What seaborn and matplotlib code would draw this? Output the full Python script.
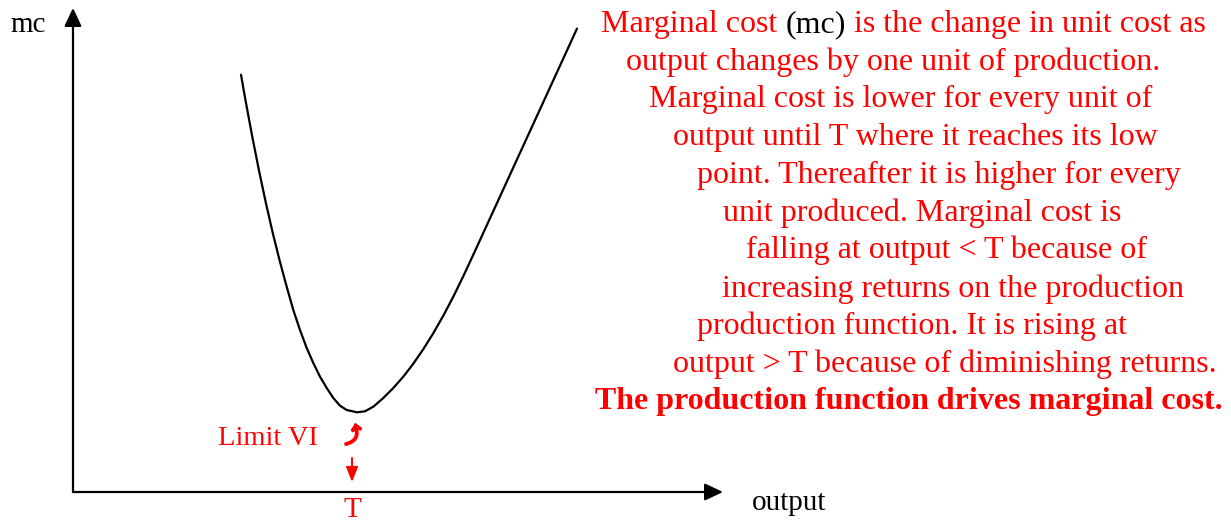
import matplotlib
matplotlib.use("Agg")
import matplotlib.pyplot as plt
import matplotlib.patheffects as pe
import seaborn as sns
import pandas as pd

# ---- data (output, marginal cost) ----
output = [168, 172, 179, 186, 193, 200, 207, 213.7, 220.3, 227, 233.7, 240.3,
          247, 253.7, 260.3, 267, 273.7, 284, 292, 300.3, 310.3, 320.3, 330.3,
          340.3, 350.3, 360.3, 370.3, 380.3, 390.3, 400.3, 427, 457, 487, 504]
mc = [417.3, 394.5, 356.7, 321.4, 288.5, 258, 230, 205.3, 182, 162, 144, 129,
      115.3, 104, 94, 86.3, 82, 79.7, 80.7, 85.3, 94, 104, 115.3,
      128.3, 142.8, 158.8, 176.3, 195.3, 215.8, 237.3, 295.5, 360.9, 426.3, 463.4]
T_output = 279  # output level at the low point

x_label = "output"
y_label = "mc"
bold_line = "The production function drives marginal cost."
text_lines = [
    "output changes by one unit of production.",
    "Marginal cost is lower for every unit of",
    "output until T where it reaches its low",
    "point. Thereafter it is higher for every",
    "unit produced. Marginal cost is",
    "falling at output < T because of",
    "increasing returns on the production",
    "production function. It is rising at",
    "output > T because of diminishing returns.",
]
first_parts = ["Marginal cost", "(mc)", "is the change in unit cost as"]

# ---- layout ----
W, H = 1231, 523
sns.set_theme(style="white")
plt.rcParams["font.family"] = ["Liberation Serif", "DejaVu Sans"]

fig = plt.figure(figsize=(W / 100, H / 100), dpi=100)
ax = fig.add_axes([0, 0, 1, 1])
ox, oy = 73, 492  # pixel position of the origin
ax.set_xlim(-ox, W - ox)
ax.set_ylim(-(H - oy), oy)
ax.axis("off")

def fp(x, y):
    return (x / W, 1 - y / H)

# curve
df = pd.DataFrame({"output": output, "mc": mc})
sns.lineplot(data=df, x="output", y="mc", ax=ax, color="black", lw=1.6,
             sort=False, estimator=None)

# axes with arrows
arr = dict(arrowstyle="-|>,head_length=0.55,head_width=0.26", color="black",
           lw=1.6, mutation_scale=20, shrinkA=0, shrinkB=0)
ax.annotate("", xy=(650, 0), xytext=(0, 0), arrowprops=arr)
ax.annotate("", xy=(0, 484), xytext=(0, 0), arrowprops=arr)

ax.text(*fp(10, 32), y_label, transform=fig.transFigure, fontsize=21,
        ha="left", va="baseline", color="black")
ax.text(*fp(752, 510), x_label, transform=fig.transFigure, fontsize=21,
        ha="left", va="baseline", color="black")

# T marker and Limit VI
red = "#FF0000"
ax.text(T_output, -25, "T", fontsize=21, ha="center", va="baseline", color=red)
ax.annotate("", xy=(T_output, 10), xytext=(T_output, 34),
            arrowprops=dict(arrowstyle="-|>,head_length=0.45,head_width=0.18",
                            color=red, lw=1.4, mutation_scale=20,
                            shrinkA=0, shrinkB=0))
ax.text(T_output + 1, 56, "\u2934", fontsize=14, ha="center", va="center",
        color=red, rotation=12,
        family=["DejaVu Sans", "Noto Sans", "Noto Sans CJK JP", "Liberation Sans"],
        path_effects=[pe.withStroke(linewidth=1.8, foreground=red)])
ax.text(*fp(218, 445), "Limit VI", transform=fig.transFigure, fontsize=20.5,
        ha="left", va="baseline", color=red)

# right-hand explanation text
fs = 23
lefts = [626, 649, 673, 697, 723, 746, 722, 697, 673]
bases = [70, 107, 145, 183, 221, 258, 297, 334, 372]
for s, lx, by in zip(text_lines, lefts, bases):
    ax.text(*fp(lx, by), s, transform=fig.transFigure, fontsize=fs,
            ha="left", va="baseline", color=red)
ax.text(*fp(595, 409), bold_line, transform=fig.transFigure, fontsize=fs,
        ha="left", va="baseline", color=red, fontweight="bold")

# first line with black "(mc)"
r = fig.canvas.get_renderer()
lx0, by0 = 601, 32
full = " ".join(first_parts)
def width(s):
    t = fig.text(0, 0, s, fontsize=fs)
    w = t.get_window_extent(r).width
    t.remove()
    return w
w_full = width(full)
w_two = width(first_parts[0] + " " + first_parts[1])
ax.text(*fp(lx0, by0), first_parts[0], transform=fig.transFigure, fontsize=fs,
        ha="left", va="baseline", color=red)
ax.text(*fp(lx0 + w_two, by0), first_parts[1], transform=fig.transFigure,
        fontsize=fs, ha="right", va="baseline", color="black")
ax.text(*fp(lx0 + w_full, by0), first_parts[2], transform=fig.transFigure,
        fontsize=fs, ha="right", va="baseline", color=red)

fig.savefig("out.png", dpi=100)
